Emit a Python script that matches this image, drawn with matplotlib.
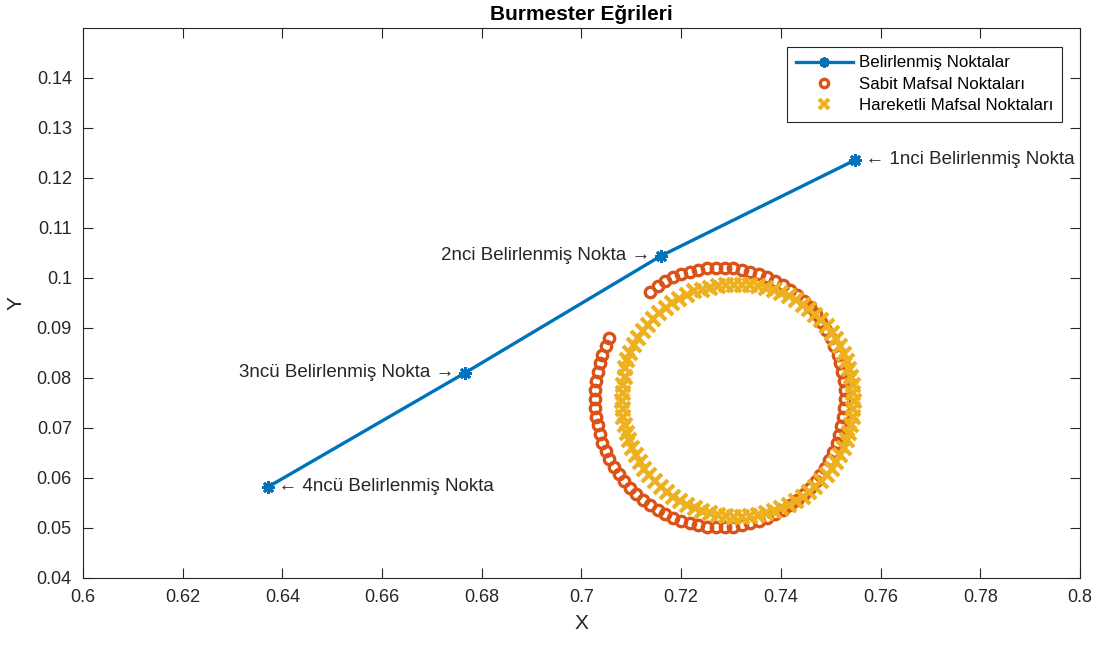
import matplotlib
matplotlib.use("Agg")
import matplotlib.pyplot as plt

plt.rcParams['font.family'] = ['Liberation Sans', 'DejaVu Sans']

# Precision (design) points
design_x = [0.7549, 0.7159, 0.6766, 0.6371]
design_y = [0.1236, 0.1044, 0.0810, 0.0582]
design_labels = ['1nci Belirlenmiş Nokta', '2nci Belirlenmiş Nokta',
                 '3ncü Belirlenmiş Nokta', '4ncü Belirlenmiş Nokta']

# Fixed pivot candidates (circle-point curve)
fixed_x = [0.7056, 0.7049, 0.7042, 0.7037, 0.7033, 0.7029, 0.7028, 0.7027,
           0.7028, 0.7029, 0.7033, 0.7037, 0.7042, 0.7049, 0.7056, 0.7065,
           0.7075, 0.7086, 0.7098, 0.7110, 0.7124, 0.7138, 0.7153, 0.7168,
           0.7184, 0.7200, 0.7217, 0.7234, 0.7252, 0.7269, 0.7287, 0.7304,
           0.7322, 0.7339, 0.7356, 0.7372, 0.7388, 0.7404, 0.7418, 0.7433,
           0.7446, 0.7458, 0.7470, 0.7479, 0.7488, 0.7497, 0.7505, 0.7512,
           0.7517, 0.7521, 0.7525, 0.7527, 0.7528, 0.7528, 0.7527, 0.7523,
           0.7519, 0.7514, 0.7507, 0.7500, 0.7491, 0.7481, 0.7470, 0.7458,
           0.7446, 0.7433, 0.7418, 0.7404, 0.7388, 0.7372, 0.7356, 0.7339,
           0.7322, 0.7304, 0.7287, 0.7269, 0.7252, 0.7234, 0.7217, 0.7200,
           0.7184, 0.7168, 0.7153, 0.7138]
fixed_y = [0.0879, 0.0863, 0.0846, 0.0829, 0.0811, 0.0794, 0.0776, 0.0758,
           0.0740, 0.0722, 0.0705, 0.0687, 0.0670, 0.0654, 0.0637, 0.0622,
           0.0607, 0.0593, 0.0580, 0.0567, 0.0556, 0.0545, 0.0535, 0.0527,
           0.0520, 0.0514, 0.0509, 0.0505, 0.0502, 0.0501, 0.0501, 0.0502,
           0.0505, 0.0509, 0.0514, 0.0520, 0.0527, 0.0535, 0.0545, 0.0556,
           0.0567, 0.0580, 0.0593, 0.0606, 0.0620, 0.0636, 0.0652, 0.0669,
           0.0686, 0.0704, 0.0722, 0.0740, 0.0758, 0.0776, 0.0794, 0.0811,
           0.0829, 0.0846, 0.0863, 0.0880, 0.0896, 0.0912, 0.0927, 0.0941,
           0.0954, 0.0965, 0.0976, 0.0986, 0.0994, 0.1001, 0.1007, 0.1012,
           0.1016, 0.1019, 0.1020, 0.1020, 0.1019, 0.1016, 0.1012, 0.1007,
           0.1001, 0.0993, 0.0983, 0.0972]

# Moving pivot candidates (center-point curve)
moving_x = [0.7546, 0.7545, 0.7544, 0.7541, 0.7537, 0.7532, 0.7526, 0.7519,
            0.7511, 0.7502, 0.7492, 0.7481, 0.7469, 0.7457, 0.7444, 0.7430,
            0.7416, 0.7401, 0.7386, 0.7370, 0.7354, 0.7338, 0.7322, 0.7306,
            0.7290, 0.7274, 0.7258, 0.7242, 0.7226, 0.7211, 0.7196, 0.7182,
            0.7169, 0.7156, 0.7144, 0.7133, 0.7123, 0.7114, 0.7106, 0.7098,
            0.7092, 0.7087, 0.7087, 0.7084, 0.7083, 0.7082, 0.7083, 0.7084,
            0.7087, 0.7091, 0.7096, 0.7102, 0.7109, 0.7117, 0.7126, 0.7136,
            0.7147, 0.7159, 0.7171, 0.7184, 0.7198, 0.7212, 0.7227, 0.7242,
            0.7258, 0.7274, 0.7290, 0.7306, 0.7322, 0.7338, 0.7354, 0.7370,
            0.7386, 0.7401, 0.7416, 0.7430, 0.7444, 0.7457, 0.7469, 0.7481,
            0.7492, 0.7502, 0.7511, 0.7519, 0.7526, 0.7532, 0.7537, 0.7541,
            0.7544, 0.7545]
moving_y = [0.0754, 0.0770, 0.0786, 0.0802, 0.0818, 0.0833, 0.0848, 0.0863,
            0.0877, 0.0890, 0.0903, 0.0915, 0.0926, 0.0937, 0.0946, 0.0955,
            0.0963, 0.0969, 0.0975, 0.0979, 0.0983, 0.0985, 0.0986, 0.0986,
            0.0985, 0.0983, 0.0979, 0.0976, 0.0973, 0.0966, 0.0958, 0.0950,
            0.0940, 0.0929, 0.0918, 0.0906, 0.0893, 0.0879, 0.0865, 0.0850,
            0.0835, 0.0819, 0.0802, 0.0786, 0.0770, 0.0754, 0.0738, 0.0722,
            0.0706, 0.0690, 0.0675, 0.0660, 0.0645, 0.0631, 0.0618, 0.0605,
            0.0593, 0.0582, 0.0571, 0.0562, 0.0553, 0.0545, 0.0539, 0.0533,
            0.0529, 0.0525, 0.0523, 0.0522, 0.0522, 0.0523, 0.0525, 0.0529,
            0.0533, 0.0539, 0.0545, 0.0553, 0.0562, 0.0571, 0.0582, 0.0593,
            0.0605, 0.0618, 0.0631, 0.0645, 0.0660, 0.0675, 0.0690, 0.0706,
            0.0722, 0.0738]

x_ticks = [0.6, 0.62, 0.64, 0.66, 0.68, 0.7, 0.72, 0.74, 0.76, 0.78, 0.8]
x_tick_labels = ['0.6', '0.62', '0.64', '0.66', '0.68', '0.7', '0.72',
                 '0.74', '0.76', '0.78', '0.8']
y_ticks = [0.04, 0.05, 0.06, 0.07, 0.08, 0.09, 0.1, 0.11, 0.12, 0.13, 0.14]
y_tick_labels = ['0.04', '0.05', '0.06', '0.07', '0.08', '0.09', '0.1',
                 '0.11', '0.12', '0.13', '0.14']

BLUE = '#0072BD'
ORANGE = '#D95319'
YELLOW = '#EDB120'
INK = '#262626'

fig = plt.figure(figsize=(10.99, 6.45), dpi=100)
ax = fig.add_axes([0.0755, 0.1039, 0.9072, 0.8527])

ax.plot(design_x, design_y, color=BLUE, linewidth=2.4,
        marker=(8, 2, 0), markersize=9, markeredgewidth=2.0,
        label='Belirlenmiş Noktalar')
ax.plot(fixed_x, fixed_y, linestyle='none', marker='o', markersize=7.5,
        markerfacecolor='none', markeredgecolor=ORANGE, markeredgewidth=2.4,
        label='Sabit Mafsal Noktaları')
ax.plot(moving_x, moving_y, linestyle='none', marker='x', markersize=9.5,
        markeredgecolor=YELLOW, markeredgewidth=3.0,
        label='Hareketli Mafsal Noktaları')

# Point annotations with arrows pointing at each design point
txt_kw = dict(fontsize=13.5, color=INK, va='center')
ax.text(design_x[0], design_y[0], '  \u2190 ' + design_labels[0], ha='left', **txt_kw)
ax.text(design_x[1], design_y[1], design_labels[1] + ' \u2192  ', ha='right', **txt_kw)
ax.text(design_x[2], design_y[2], design_labels[2] + ' \u2192  ', ha='right', **txt_kw)
ax.text(design_x[3], design_y[3], '  \u2190 ' + design_labels[3], ha='left', **txt_kw)

ax.set_xlim(0.6, 0.8)
ax.set_ylim(0.04, 0.15)
ax.set_xticks(x_ticks)
ax.set_xticklabels(x_tick_labels)
ax.set_yticks(y_ticks)
ax.set_yticklabels(y_tick_labels)
ax.tick_params(direction='in', top=True, right=True, length=7, width=0.8,
               colors=INK, labelsize=13, pad=8)
for sp in ax.spines.values():
    sp.set_color(INK)
    sp.set_linewidth(0.8)

ax.set_title('Burmester Eğrileri', fontsize=15, fontweight='bold', color='black', pad=6)
ax.set_xlabel('X', fontsize=15, color=INK, labelpad=6)
ax.set_ylabel('Y', fontsize=15, color=INK, labelpad=8)

leg = ax.legend(loc='upper right', bbox_to_anchor=(0.982, 0.9655),
                borderaxespad=0, fontsize=12.2, fancybox=False, framealpha=1,
                edgecolor=INK, handlelength=3.4, labelspacing=0.38,
                borderpad=0.5, handletextpad=0.35, markerscale=0.8)
leg.get_frame().set_linewidth(0.8)

fig.savefig('out.png', dpi=100, facecolor='white')
